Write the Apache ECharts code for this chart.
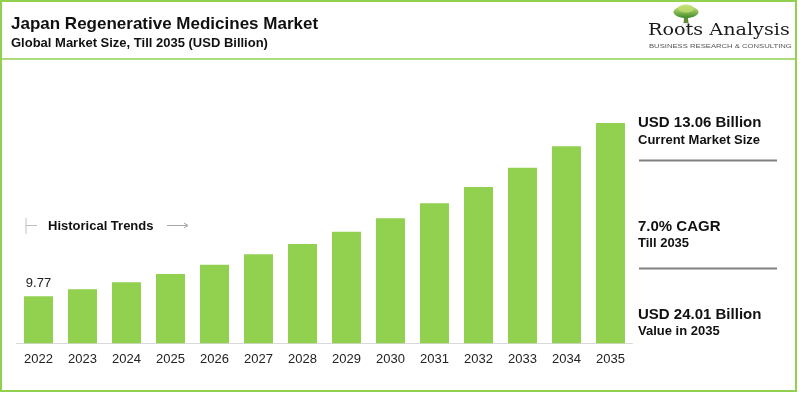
<!DOCTYPE html>
<html><head><meta charset="utf-8">
<script src="https://cdn.jsdelivr.net/npm/echarts@6/dist/echarts.min.js"></script>
<style>html,body{margin:0;padding:0;background:#fff}#c{width:800px;height:393px}</style>
</head><body><div id="c"></div>
<script>
var years = ['2022','2023','2024','2025','2026','2027','2028','2029','2030','2031','2032','2033','2034','2035'];
var marketSize = [9.77, 10.34, 10.91, 11.59, 12.36, 13.21, 14.06, 15.07, 16.17, 17.40, 18.74, 20.33, 22.09, 24.01];
var titleText = 'Japan Regenerative Medicines Market';
var subtitleText = 'Global Market Size, Till 2035 (USD Billion)';
var sideHeads = ['USD 13.06 Billion', '7.0% CAGR', 'USD 24.01 Billion'];
var sideSubs = ['Current Market Size', 'Till 2035', 'Value in 2035'];

var GREEN = '#92d050';
var chart = echarts.init(document.getElementById('c'), null, {renderer: 'canvas'});

var barData = marketSize.map(function (v, i) {
  return i === 0 ? {value: v, label: {show: true}} : v;
});

var sideY = [[123, 140], [227, 243.5], [315, 331]];
var graphics = [
  {type: 'rect', shape: {x: 1, y: 1, width: 795, height: 390}, style: {fill: 'none', stroke: GREEN, lineWidth: 2}, z: 10},
  {type: 'line', shape: {x1: 1, y1: 59, x2: 796, y2: 59}, style: {stroke: GREEN, lineWidth: 1.5}, z: 10},
  {type: 'text', left: 11, top: 16, style: {text: titleText, font: 'bold 17px "Liberation Sans", Arial, sans-serif', fill: '#111'}},
  {type: 'text', left: 11, top: 37, style: {text: subtitleText, font: 'bold 13px "Liberation Sans", Arial, sans-serif', fill: '#111'}},
  // logo tree
  {type: 'line', shape: {x1: 686, y1: 22, x2: 676, y2: 30}, style: {stroke: '#d0d0d0', lineWidth: 0.8}},
  {type: 'line', shape: {x1: 686, y1: 22, x2: 697, y2: 30}, style: {stroke: '#d0d0d0', lineWidth: 0.8}},
  {type: 'line', shape: {x1: 686, y1: 22, x2: 686, y2: 31}, style: {stroke: '#d0d0d0', lineWidth: 0.8}},
  {type: 'polygon', shape: {points: [[684.5, 14], [687.5, 14], [688.5, 23], [683.5, 23]]}, style: {fill: '#5f8a33'}},
  {type: 'ellipse', shape: {cx: 686, cy: 12, rx: 12.5, ry: 6}, style: {fill: new echarts.graphic.LinearGradient(0, 0, 0, 1, [{offset: 0, color: '#cfe580'}, {offset: 1, color: '#3d8c2a'}])}},
  {type: 'ellipse', shape: {cx: 686, cy: 8.5, rx: 8, ry: 4}, style: {fill: '#bcdc6a', opacity: 0.85}},
  {type: 'text', x: 648, y: 22, scaleX: 1.13, style: {text: 'Roots Analysis', font: '17px "DejaVu Serif", "Liberation Serif", serif', fill: '#1a1a1a', textVerticalAlign: 'top'}},
  {type: 'text', x: 649, y: 43, scaleX: 1.28, style: {text: 'BUSINESS RESEARCH & CONSULTING', font: '6px "Liberation Sans", Arial, sans-serif', fill: '#555', textVerticalAlign: 'top'}},
  // historical trends
  {type: 'line', shape: {x1: 26, y1: 218, x2: 26, y2: 234}, style: {stroke: '#bfbfbf', lineWidth: 1}},
  {type: 'line', shape: {x1: 26, y1: 225.5, x2: 37, y2: 225.5}, style: {stroke: '#bfbfbf', lineWidth: 1}},
  {type: 'text', x: 48, y: 226, style: {text: 'Historical Trends', font: 'bold 13px "Liberation Sans", Arial, sans-serif', fill: '#111', textVerticalAlign: 'middle'}},
  {type: 'line', shape: {x1: 167, y1: 225.5, x2: 188, y2: 225.5}, style: {stroke: '#a6a6a6', lineWidth: 1}},
  {type: 'polyline', shape: {points: [[184, 223], [188, 225.5], [184, 228]]}, style: {stroke: '#a6a6a6', lineWidth: 1, fill: 'none'}},
  // side panel separators
  {type: 'line', shape: {x1: 639, y1: 160.5, x2: 777, y2: 160.5}, style: {stroke: '#808080', lineWidth: 2}},
  {type: 'line', shape: {x1: 639, y1: 268.5, x2: 777, y2: 268.5}, style: {stroke: '#808080', lineWidth: 2}}
];
sideHeads.forEach(function (t, i) {
  graphics.push({type: 'text', x: 638, y: sideY[i][0], style: {text: t, font: 'bold 15px "Liberation Sans", Arial, sans-serif', fill: '#111', textVerticalAlign: 'middle'}});
  graphics.push({type: 'text', x: 638, y: sideY[i][1], style: {text: sideSubs[i], font: 'bold 13px "Liberation Sans", Arial, sans-serif', fill: '#111', textVerticalAlign: 'middle'}});
});

chart.setOption({
  animation: false,
  backgroundColor: '#fff',
  grid: {left: 16.5, right: 167.5, bottom: 49.7, top: 98.7, containLabel: false},
  xAxis: {
    type: 'category', data: years,
    axisLine: {show: true, lineStyle: {color: '#d9d9d9', width: 1}},
    axisTick: {show: false},
    axisLabel: {color: '#222', fontSize: 13, fontFamily: '"Liberation Sans", Arial, sans-serif', margin: 10}
  },
  yAxis: {type: 'value', min: 5.9, max: 26, show: false, splitLine: {show: false}},
  series: [{
    type: 'bar', data: barData, barWidth: 29, clip: true,
    itemStyle: {color: GREEN},
    label: {show: false, position: 'top', distance: 6, color: '#222', fontSize: 13, fontFamily: '"Liberation Sans", Arial, sans-serif', formatter: function (p) { return p.value.toFixed(2); }}
  }],
  graphic: graphics
});
</script></body></html>
